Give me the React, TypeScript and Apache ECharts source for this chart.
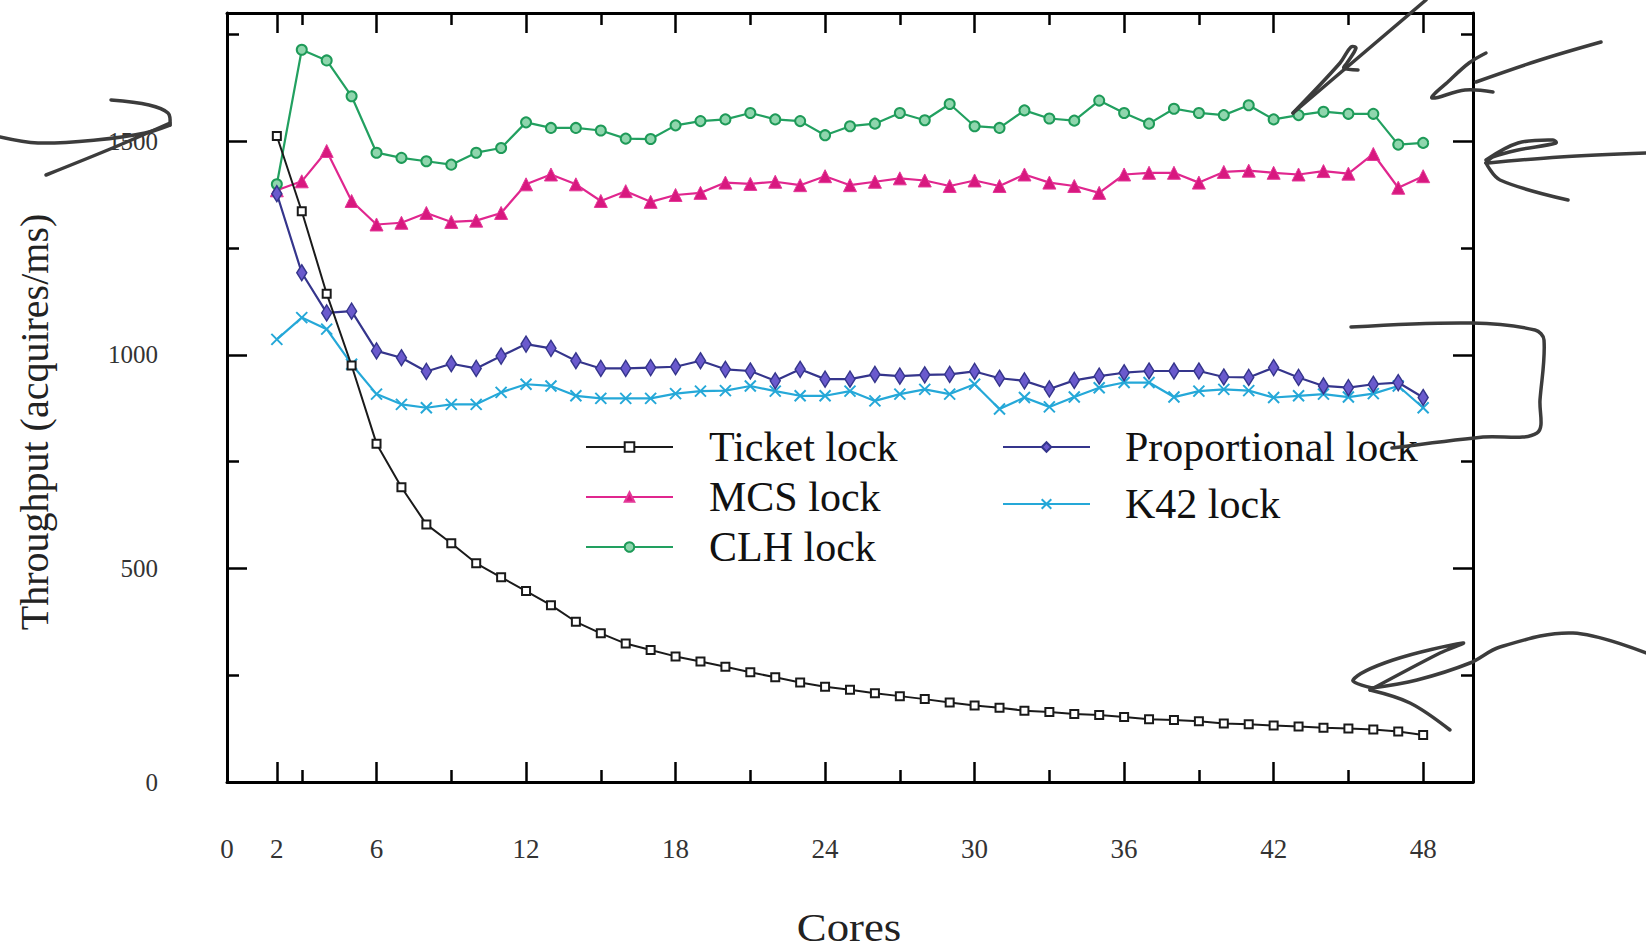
import React, { useEffect, useRef } from 'react';
import * as echarts from 'echarts';

const cores = [2, 3, 4, 5, 6, 7, 8, 9, 10, 11, 12, 13, 14, 15, 16, 17, 18, 19, 20, 21, 22, 23, 24, 25, 26, 27, 28, 29, 30, 31, 32, 33, 34, 35, 36, 37, 38, 39, 40, 41, 42, 43, 44, 45, 46, 47, 48];

const ticketLock = [1512, 1336, 1143, 975, 792, 690, 603, 559, 512, 479, 447, 414, 375, 348, 324, 309, 294, 282, 270, 257, 245, 233, 223, 216, 208, 201, 194, 186, 179, 174, 167, 164, 159, 157, 152, 147, 145, 142, 137, 135, 132, 130, 127, 125, 123, 118, 110];
const mcsLock = [1385, 1406, 1477, 1360, 1305, 1309, 1332, 1311, 1314, 1332, 1399, 1422, 1399, 1360, 1383, 1358, 1374, 1379, 1403, 1400, 1405, 1397, 1418, 1397, 1405, 1413, 1408, 1395, 1408, 1395, 1422, 1403, 1395, 1379, 1422, 1426, 1426, 1403, 1428, 1431, 1426, 1422, 1430, 1424, 1470, 1391, 1418];
const clhLock = [1399, 1714, 1689, 1605, 1473, 1461, 1453, 1445, 1473, 1484, 1544, 1531, 1531, 1525, 1506, 1505, 1537, 1547, 1551, 1566, 1551, 1547, 1514, 1535, 1541, 1566, 1549, 1587, 1535, 1531, 1572, 1553, 1548, 1595, 1566, 1541, 1576, 1566, 1561, 1584, 1551, 1561, 1569, 1564, 1564, 1492, 1496];
const proportionalLock = [1377, 1192, 1098, 1102, 1009, 993, 961, 979, 968, 997, 1025, 1015, 986, 968, 968, 970, 972, 986, 966, 962, 939, 966, 943, 943, 954, 950, 953, 954, 961, 945, 939, 920, 940, 950, 958, 962, 962, 962, 948, 947, 970, 947, 927, 923, 931, 935, 900];
const k42Lock = [1036, 1087, 1060, 978, 908, 884, 876, 884, 884, 912, 931, 927, 904, 898, 898, 898, 909, 915, 916, 927, 915, 904, 904, 915, 892, 908, 919, 908, 931, 873, 900, 878, 901, 923, 935, 935, 901, 915, 919, 916, 900, 904, 908, 901, 909, 927, 876];

const xLabelValues = [0, 2, 6, 12, 18, 24, 30, 36, 42, 48];
const xMajorTicks = [2, 6, 12, 18, 24, 30, 36, 42, 48];
const xMinorTicks = [3, 9, 15, 21, 27, 33, 39, 45];
const yLabelValues = [0, 500, 1000, 1500];
const yMajorTicks = [0, 500, 1000, 1500];
const yMinorTicks = [250, 750, 1250, 1750];

const xTitle = 'Cores';
const yTitle = 'Throughput (acquires/ms)';

// hand-drawn pen strokes over the figure (pixel positions)
const penStrokes: number[][][] = [
  [[0, 137], [38, 143], [96, 140], [145, 133], [170, 125]],
  [[170, 125], [168, 113], [149, 105], [111, 100]],
  [[170, 123], [115, 147], [46, 175]],
  [[1426, 0], [1293, 113]],
  [[1293, 113], [1340, 63], [1351, 47], [1356, 48], [1347, 63], [1344, 68], [1358, 70]],
  [[1601, 42], [1540, 60], [1476, 82]],
  [[1486, 53], [1469, 63], [1450, 80], [1432, 98], [1465, 90], [1493, 92]],
  [[1646, 153], [1560, 157], [1488, 163]],
  [[1486, 160], [1518, 143], [1553, 140], [1556, 143], [1518, 150], [1493, 157], [1486, 163]],
  [[1486, 163], [1500, 180], [1568, 200]],
  [[1351, 327], [1472, 323], [1535, 330], [1544, 340], [1540, 400], [1537, 433], [1483, 437], [1392, 448]],
  [[1646, 653], [1573, 633], [1500, 647], [1470, 663], [1417, 680], [1372, 688]],
  [[1372, 688], [1353, 680], [1393, 660], [1463, 643], [1440, 653], [1370, 690]],
  [[1370, 690], [1410, 703], [1450, 730]],
];

const FONT = '"Liberation Serif", "DejaVu Serif", serif';

const mkX = (position: string, ticks: number[], len: number, showLine: boolean, labels?: number[]) => ({
  type: 'value',
  position,
  min: 0,
  max: 50,
  axisLine: { show: showLine, onZero: false, lineStyle: { color: '#000', width: 3 } },
  axisTick: { show: true, inside: true, length: len, customValues: ticks, lineStyle: { color: '#000', width: 2.5 } },
  axisLabel: labels
    ? { show: true, customValues: labels, formatter: (v: number) => String(v), fontFamily: FONT, fontSize: 27, color: '#333', margin: 53 }
    : { show: false },
  splitLine: { show: false },
});

const mkY = (position: string, ticks: number[], len: number, showLine: boolean, labels?: number[]) => ({
  type: 'value',
  position,
  min: 0,
  max: 1800,
  axisLine: { show: showLine, onZero: false, lineStyle: { color: '#000', width: 3 } },
  axisTick: { show: true, inside: true, length: len, customValues: ticks, lineStyle: { color: '#000', width: 2.5 } },
  axisLabel: labels
    ? { show: true, customValues: labels, formatter: (v: number) => String(v), fontFamily: FONT, fontSize: 25, color: '#333', margin: 69 }
    : { show: false },
  splitLine: { show: false },
});

const pairs = (vals: number[]) => cores.map((c, i) => [c, vals[i]]);

const X_PATH = 'path://M0,0L10,10M10,0L0,10';

export default function App() {
  const ref = useRef<HTMLDivElement>(null);
  useEffect(() => {
    if (!ref.current) return;
    const chart = echarts.init(ref.current, null, { renderer: 'svg' });
    const option: any = {
      animation: false,
      backgroundColor: '#fff',
      grid: { left: 227, right: 173, top: 13, bottom: 166, containLabel: false },
      xAxis: [
        mkX('bottom', xMajorTicks, 20, true, xLabelValues),
        mkX('bottom', xMinorTicks, 12, false),
        mkX('top', xMajorTicks, 20, true),
        mkX('top', xMinorTicks, 12, false),
      ],
      yAxis: [
        mkY('left', yMajorTicks, 20, true, yLabelValues),
        mkY('left', yMinorTicks, 12, false),
        mkY('right', yMajorTicks, 20, true),
        mkY('right', yMinorTicks, 12, false),
      ],
      legend: [
        {
          data: ['Ticket lock', 'MCS lock', 'CLH lock'],
          orient: 'vertical',
          left: 580,
          top: 421,
          itemWidth: 87,
          itemHeight: 12,
          itemGap: 8,
          selectedMode: false,
          textStyle: { fontFamily: FONT, fontSize: 42, lineHeight: 42, color: '#111', padding: [0, 0, 0, 31] },
        },
        {
          data: ['Proportional lock', 'K42 lock'],
          orient: 'vertical',
          left: 997,
          top: 421,
          itemWidth: 87,
          itemHeight: 12,
          itemGap: 15,
          selectedMode: false,
          textStyle: { fontFamily: FONT, fontSize: 42, lineHeight: 42, color: '#111', padding: [0, 0, 0, 30] },
        },
      ],
      series: [
        {
          name: 'Ticket lock',
          type: 'line',
          data: pairs(ticketLock),
          symbol: 'emptyRect',
          symbolSize: 8,
          lineStyle: { color: '#1a1a1a', width: 2 },
          itemStyle: { color: '#1a1a1a', borderColor: '#1a1a1a', borderWidth: 1.5 },
          z: 3,
        },
        {
          name: 'MCS lock',
          type: 'line',
          data: pairs(mcsLock),
          symbol: 'triangle',
          symbolSize: 13,
          lineStyle: { color: '#e0268e', width: 2.2 },
          itemStyle: { color: '#d8187f', borderColor: '#e43898', borderWidth: 1 },
          z: 2,
        },
        {
          name: 'CLH lock',
          type: 'line',
          data: pairs(clhLock),
          symbol: 'circle',
          symbolSize: 10,
          lineStyle: { color: '#22a060', width: 2.2 },
          itemStyle: { color: '#8fd6ad', borderColor: '#1e9a58', borderWidth: 2 },
          z: 2,
        },
        {
          name: 'Proportional lock',
          type: 'line',
          data: pairs(proportionalLock),
          symbol: 'diamond',
          symbolSize: [10, 16],
          lineStyle: { color: '#35358c', width: 2.2 },
          itemStyle: { color: '#6a5acd', borderColor: '#35358c', borderWidth: 1.5 },
          z: 2,
        },
        {
          name: 'K42 lock',
          type: 'line',
          data: pairs(k42Lock),
          symbol: X_PATH,
          symbolSize: 11,
          lineStyle: { color: '#25a8d8', width: 2.2 },
          itemStyle: { color: '#25a8d8', borderColor: '#25a8d8', borderWidth: 2 },
          z: 1,
        },
      ],
      graphic: [
        {
          type: 'text',
          x: 34,
          y: 422,
          rotation: Math.PI / 2,
          style: { text: yTitle, fontFamily: FONT, fontSize: 40, fill: '#222', align: 'center', verticalAlign: 'middle' },
        },
        {
          type: 'text',
          x: 849,
          y: 927,
          scaleX: 1.12,
          style: { text: xTitle, fontFamily: FONT, fontSize: 40, fill: '#222', align: 'center', verticalAlign: 'middle' },
        },
        ...penStrokes.map((pts) => ({
          type: 'polyline',
          z: 100,
          shape: { points: pts, smooth: 0.35 },
          style: { stroke: '#3c3c3c', lineWidth: 3.5, fill: null, lineCap: 'round', lineJoin: 'round' },
        })),
      ],
    };
    chart.setOption(option);
    return () => chart.dispose();
  }, []);
  return (
    <div
      ref={ref}
      style={{ position: 'fixed', left: 0, top: 0, width: 1646, height: 948, background: '#fff' }}
    />
  );
}
